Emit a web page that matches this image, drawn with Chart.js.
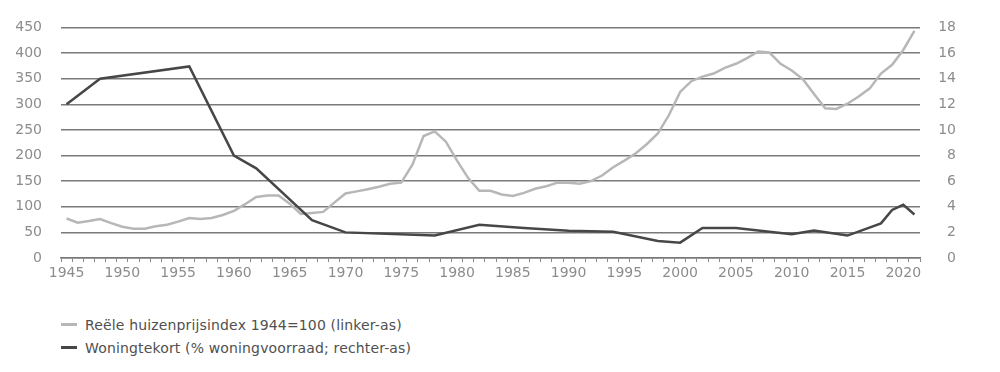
<!DOCTYPE html>
<html>
<head>
<meta charset="utf-8">
<script src="https://cdn.jsdelivr.net/npm/chart.js@4/dist/chart.umd.min.js"></script>
<style>
  html, body { margin: 0; padding: 0; background: #ffffff; }
  #wrap { position: relative; width: 1000px; height: 372px; }
  #c { position: absolute; left: 0; top: 0; }
  #legend { position: absolute; left: 61px; top: 313px; font-family: "DejaVu Sans", sans-serif; font-size: 14px; letter-spacing: 0.15px; color: #505050; }
  .item { display: flex; align-items: center; height: 23px; }
  .sw { width: 16px; height: 3px; margin-right: 8px; }
</style>
</head>
<body>
<div id="wrap">
  <canvas id="c" width="1000" height="300"></canvas>
  <div id="legend"></div>
</div>
<script>
const years = [1945,1946,1947,1948,1949,1950,1951,1952,1953,1954,1955,1956,1957,1958,1959,
  1960,1961,1962,1963,1964,1965,1966,1967,1968,1969,1970,1971,1972,1973,1974,1975,1976,1977,1978,1979,
  1980,1981,1982,1983,1984,1985,1986,1987,1988,1989,1990,1991,1992,1993,1994,1995,1996,1997,1998,1999,
  2000,2001,2002,2003,2004,2005,2006,2007,2008,2009,2010,2011,2012,2013,2014,2015,2016,2017,2018,2019,
  2020,2021];

const tickYears = [1945,1950,1955,1960,1965,1970,1975,1980,1985,1990,1995,2000,2005,2010,2015,2020];

// Reële huizenprijsindex 1944=100 (linker-as)
const houseIndex = [77,69,72,76,68,61,57,57,62,65,71,78,76,78,84,
  92,105,119,122,122,106,86,88,90,108,126,130,134,139,145,147,182,238,247,227,
  190,156,131,131,124,121,127,135,140,147,147,145,150,161,177,190,204,222,243,279,
  324,345,354,360,371,379,390,403,401,379,366,349,320,292,291,301,315,331,360,377,
  406,443];

// Woningtekort (% woningvoorraad; rechter-as)
const shortage = [12.0,null,null,14.0,null,null,null,null,null,null,null,14.95,null,null,null,
  8.0,null,7.0,null,null,null,null,2.95,null,null,2.0,null,null,null,null,null,null,null,1.75,null,
  null,null,2.6,null,null,null,2.35,null,null,null,2.12,null,null,null,2.05,null,null,null,1.32,null,
  1.2,null,2.35,null,null,2.35,null,null,null,null,1.85,null,2.15,null,null,1.75,null,null,2.7,3.75,
  4.15,3.4];

const leftTicks = [0,50,100,150,200,250,300,350,400,450];
const rightTicks = [0,2,4,6,8,10,12,14,16,18];

const seriesNames = ["Reële huizenprijsindex 1944=100 (linker-as)", "Woningtekort (% woningvoorraad; rechter-as)"];
const seriesColors = ["#b7b7b7", "#474747"];

const axisFont = { family: "DejaVu Sans", size: 14 };
const axisColor = "#8c8c8c";

new Chart(document.getElementById('c'), {
  type: 'line',
  data: {
    labels: years,
    datasets: [
      { label: seriesNames[1], data: shortage, yAxisID: 'y1', borderColor: seriesColors[1], borderWidth: 2.5,
        pointRadius: 0, tension: 0, spanGaps: true, fill: false },
      { label: seriesNames[0], data: houseIndex, yAxisID: 'y', borderColor: seriesColors[0], borderWidth: 2.5,
        pointRadius: 0, tension: 0, spanGaps: true, fill: false }
    ]
  },
  options: {
    responsive: false,
    animation: false,
    devicePixelRatio: 1,
    layout: { padding: { top: 24, left: 14, right: 44, bottom: 12 } },
    plugins: { legend: { display: false }, tooltip: { enabled: false } },
    scales: {
      x: {
        type: 'category',
        offset: true,
        afterFit: (s) => { s.height = 30; },
        grid: { offset: true, drawOnChartArea: false, drawTicks: true, tickLength: 4, color: '#8a8a8a', lineWidth: 1 },
        border: { display: true, color: '#7a7a7a', width: 1.5 },
        ticks: {
          autoSkip: false, maxRotation: 0, minRotation: 0, padding: 3,
          font: axisFont, color: axisColor,
          callback: function(v, i) { return tickYears.includes(years[i]) ? String(years[i]) : ''; }
        }
      },
      y: {
        position: 'left', min: 0, max: 450,
        afterBuildTicks: (s) => { s.ticks = leftTicks.map(v => ({ value: v })); },
        afterFit: (s) => { s.width = 47; },
        grid: { drawTicks: false, color: '#7a7a7a', lineWidth: 1.5 },
        border: { display: false },
        ticks: { padding: 19, font: axisFont, color: axisColor }
      },
      y1: {
        position: 'right', min: 0, max: 18,
        afterBuildTicks: (s) => { s.ticks = rightTicks.map(v => ({ value: v })); },
        afterFit: (s) => { s.width = 36; },
        grid: { drawOnChartArea: false, drawTicks: false },
        border: { display: false },
        ticks: { padding: 19, crossAlign: 'far', font: axisFont, color: axisColor }
      }
    }
  }
});

const legend = document.getElementById('legend');
[0, 1].forEach(i => {
  const row = document.createElement('div');
  row.className = 'item';
  const sw = document.createElement('span');
  sw.className = 'sw';
  sw.style.background = seriesColors[i];
  const tx = document.createElement('span');
  tx.textContent = seriesNames[i];
  row.appendChild(sw);
  row.appendChild(tx);
  legend.appendChild(row);
});
</script>
</body>
</html>
